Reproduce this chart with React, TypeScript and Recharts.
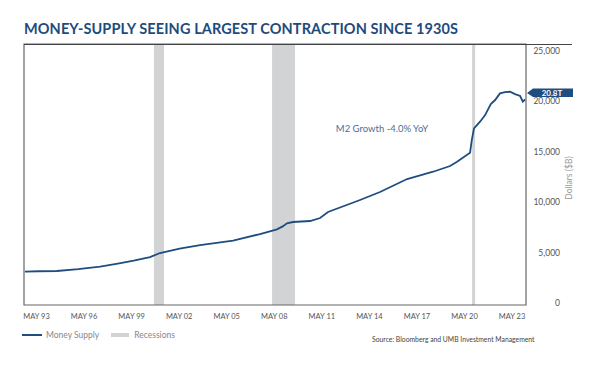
import React from 'react';
import { ComposedChart, Line, XAxis, YAxis, ReferenceArea, ReferenceDot } from 'recharts';

const dates = [1992.64, 1993.5, 1994.66, 1996.0, 1997.38, 1998.5, 1999.5, 2000.53, 2001.16, 2002.4, 2003.69, 2005.77, 2007.47, 2008.54, 2008.9, 2009.17, 2009.55, 2010.63, 2011.26, 2011.76, 2013.78, 2015.04, 2016.75, 2018.39, 2019.46, 2019.9, 2020.72, 2020.83, 2020.97, 2021.35, 2021.67, 2022.03, 2022.3, 2022.61, 2022.93, 2023.24, 2023.56, 2023.88, 2024.05, 2024.19];
const moneySupply = [3105, 3150, 3175, 3350, 3600, 3900, 4200, 4560, 4960, 5400, 5750, 6180, 6845, 7310, 7600, 7905, 8035, 8135, 8430, 9030, 10220, 11010, 12300, 13025, 13590, 14020, 14910, 16170, 17330, 17990, 18650, 19740, 20140, 20800, 20930, 20960, 20730, 20540, 19970, 20210];

const recessionStarts = [2000.78, 2008.23, 2020.85];
const recessionEnds = [2001.41, 2009.68, 2021.04];

const xTicks = [1993.37, 1996.37, 1999.37, 2002.37, 2005.37, 2008.37, 2011.37, 2014.37, 2017.37, 2020.37, 2023.37];
const xTickLabels = ['MAY 93', 'MAY 96', 'MAY 99', 'MAY 02', 'MAY 05', 'MAY 08', 'MAY 11', 'MAY 14', 'MAY 17', 'MAY 20', 'MAY 23'];
const yTicks = [0, 5000, 10000, 15000, 20000, 25000];

const X_MIN = 1992.58;
const X_MAX = 2024.25;
const LAST_VALUE = 20800;
const LAST_LABEL = '20.8T';

const data = dates.map((d, i) => ({ date: d, value: moneySupply[i] }));

const NAVY = '#1f4d7f';
const FONT = 'Lato, "Open Sans", sans-serif';

const YTick = (props: any) => {
  const { x, y, payload } = props;
  return (
    <text x={x + 34} y={y} textAnchor="end" dominantBaseline="central" fontSize={8.5} fill="#555" fontFamily={FONT}>
      {payload.value.toLocaleString('en-US')}
    </text>
  );
};

const XTick = (props: any) => {
  const { x, y, payload } = props;
  const idx = xTicks.indexOf(payload.value);
  return (
    <text x={x} y={y + 3} textAnchor="middle" dominantBaseline="central" fontSize={7.5} fill="#555" fontFamily={FONT}>
      {idx >= 0 ? xTickLabels[idx] : ''}
    </text>
  );
};

const Badge = (props: any) => {
  const { cx, cy } = props;
  const y = cy - 0.5;
  const x = cx + 1;
  const pts = `${x},${y} ${x + 6},${y - 4.5} ${x + 46},${y - 4.5} ${x + 46},${y + 4} ${x + 6},${y + 4}`;
  return (
    <g>
      <polygon points={pts} fill={NAVY} />
      <text x={x + 25} y={y} textAnchor="middle" dominantBaseline="central" fontSize={8} fontWeight={700} fill="#fff" fontFamily={FONT}>
        {LAST_LABEL}
      </text>
    </g>
  );
};

export default function App() {
  return (
    <div style={{ position: 'absolute', left: 0, top: 0, width: 600, height: 367, background: '#fff', fontFamily: FONT }}>
      <div style={{ position: 'absolute', left: 24, top: 21, fontSize: 14.5, fontWeight: 700, color: '#1e4b7d', whiteSpace: 'nowrap', lineHeight: '16px', letterSpacing: 0.1 }}>
        MONEY-SUPPLY SEEING LARGEST CONTRACTION SINCE 1930S
      </div>
      <ComposedChart width={600} height={367} data={data} margin={{ top: 44, left: 24, right: 0, bottom: 32 }}>
        <XAxis
          dataKey="date"
          type="number"
          domain={[X_MIN, X_MAX]}
          ticks={xTicks}
          interval={0}
          tick={<XTick />}
          axisLine={false}
          tickLine={false}
          height={30}
          allowDataOverflow
        />
        <YAxis
          orientation="right"
          type="number"
          domain={[-200, 25700]}
          ticks={yTicks}
          interval={0}
          tick={<YTick />}
          axisLine={false}
          tickLine={false}
          tickSize={0}
          tickMargin={0}
          width={74}
          allowDataOverflow
        />
        {recessionStarts.map((s, i) => (
          <ReferenceArea key={i} x1={s} x2={recessionEnds[i]} y1={-200} y2={25700} fill="#d2d3d5" fillOpacity={1} stroke="none" />
        ))}
        <ReferenceArea x1={X_MIN} x2={X_MAX} y1={-200} y2={25700} fill="none" stroke="#666" strokeWidth={1.2} />
        <Line type="linear" dataKey="value" stroke={NAVY} strokeWidth={1.8} dot={false} isAnimationActive={false} />
        <ReferenceDot
          x={2015.17}
          y={17262}
          r={0}
          label={{ value: 'M2 Growth -4.0% YoY', position: 'center', fontSize: 9.5, fill: '#4d6e9b', fontFamily: FONT }}
        />
        <ReferenceDot x={X_MAX} y={LAST_VALUE} r={0} shape={<Badge />} ifOverflow="visible" />
      </ComposedChart>
      <div style={{ position: 'absolute', left: 24, top: 43.5, width: 548, height: 0, borderTop: '1.5px solid #444' }} />
      <div style={{ position: 'absolute', left: 569, top: 178, transform: 'translate(-50%, -50%) rotate(-90deg)', fontSize: 8.5, color: '#999', whiteSpace: 'nowrap' }}>
        Dollars ($B)
      </div>
      <div style={{ position: 'absolute', left: 22, top: 329, display: 'flex', alignItems: 'center', fontSize: 8.5, color: '#888', whiteSpace: 'nowrap', lineHeight: '12px' }}>
        <span style={{ display: 'inline-block', width: 20, height: 2, background: NAVY, marginRight: 4 }} />
        <span>Money Supply</span>
        <span style={{ display: 'inline-block', width: 18, height: 4, background: '#d2d3d5', marginLeft: 12, marginRight: 5 }} />
        <span>Recessions</span>
      </div>
      <div style={{ position: 'absolute', left: 372, top: 334, fontSize: 6.8, color: '#444', whiteSpace: 'nowrap', lineHeight: '10px' }}>
        Source: Bloomberg and UMB Investment Management
      </div>
    </div>
  );
}
